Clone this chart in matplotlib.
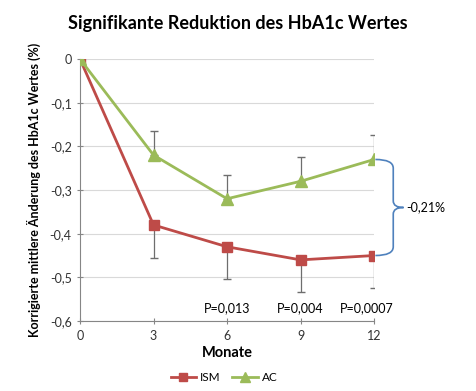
import numpy as np
import matplotlib
matplotlib.use('Agg')
import matplotlib.pyplot as plt
from matplotlib.path import Path
from matplotlib.patches import PathPatch
from matplotlib.lines import Line2D
from matplotlib.ticker import FuncFormatter

plt.rcParams['font.family'] = ['Lato', 'DejaVu Sans']

# data
months = [0, 3, 6, 9, 12]
ism = [0, -0.38, -0.43, -0.46, -0.45]
ism_err = [0, 0.075, 0.073, 0.073, 0.075]   # drawn downward only
ac = [0, -0.22, -0.32, -0.28, -0.23]
ac_err = [0, 0.055, 0.055, 0.055, 0.055]    # drawn upward only
p_labels = ['P=0,013', 'P=0,004', 'P=0,0007']
p_months = [6, 9, 11.7]
diff_label = '-0,21%'

red = '#BE4B48'
green = '#9BBB59'
blue = '#4F81BD'

fig = plt.figure(figsize=(4.76, 3.91), dpi=100)
ax = fig.add_axes([0.168, 0.179, 0.618, 0.670])

zeros = [0] * len(months)
ax.errorbar(months, ism, yerr=[ism_err, zeros], fmt='none', ecolor='#6E6E6E',
            elinewidth=0.9, capsize=3, zorder=2)
ax.errorbar(months, ac, yerr=[zeros, ac_err], fmt='none', ecolor='#6E6E6E',
            elinewidth=0.9, capsize=3, zorder=2)
ax.plot(months, ism, color=red, lw=2, marker='s', ms=7, zorder=3)
ax.plot(months, ac, color=green, lw=2, marker='^', ms=8, zorder=3)

ax.set_xlim(0, 12)
ax.set_ylim(-0.6, 0)
ax.set_xticks(months)
ax.set_yticks(np.arange(-0.6, 0.01, 0.1))
ax.yaxis.set_major_formatter(FuncFormatter(
    lambda v, p: '0' if abs(v) < 1e-9 else ('%.1f' % v).replace('.', ',')))
ax.grid(axis='y', color='#D9D9D9', lw=0.8)
ax.set_axisbelow(True)
for s in ['top', 'right']:
    ax.spines[s].set_visible(False)
for s in ['left', 'bottom']:
    ax.spines[s].set_color('#868686')
ax.tick_params(axis='both', colors='#868686', labelcolor='#333333',
               labelsize=9, direction='inout', length=5)
ax.tick_params(axis='x', pad=4)

ax.set_xlabel('Monate', fontsize=10.5, fontweight='bold', labelpad=3)
ax.set_ylabel('Korrigierte mittlere Änderung des HbA1c Wertes (%)',
              fontsize=9, fontweight='bold', labelpad=6)
fig.suptitle('Signifikante Reduktion des HbA1c Wertes', fontsize=13,
             fontweight='bold', y=0.962)

for m, t in zip(p_months, p_labels):
    ax.text(m, -0.571, t, ha='center', va='center', fontsize=9)

# curly brace between the two end points
y0, y1 = ac[-1], ism[-1]
ym = (y0 + y1) / 2
x0, xb, xt = 12.05, 12.78, 13.2
verts = [(x0, y0),
         (xb, y0), (xb, y0 - 0.02),
         (xb, ym + 0.015),
         (xb, ym), (xt, ym),
         (xb, ym), (xb, ym - 0.015),
         (xb, y1 + 0.02),
         (xb, y1), (x0, y1)]
codes = [Path.MOVETO,
         Path.CURVE3, Path.CURVE3,
         Path.LINETO,
         Path.CURVE3, Path.CURVE3,
         Path.CURVE3, Path.CURVE3,
         Path.LINETO,
         Path.CURVE3, Path.CURVE3]
ax.add_patch(PathPatch(Path(verts, codes), fill=False, ec=blue, lw=1.2,
                       clip_on=False))
ax.text(13.3, ym, diff_label, ha='left', va='center', fontsize=9)

handles = [Line2D([], [], color=red, lw=2, marker='s', ms=6),
           Line2D([], [], color=green, lw=2, marker='^', ms=7)]
ax.legend(handles, ['ISM', 'AC'], loc='center', bbox_to_anchor=(0.49, -0.215),
          ncol=2, frameon=False, fontsize=8.5, handlelength=2.2,
          columnspacing=1.0, handletextpad=0.3)

fig.savefig('out.png', dpi=100)
